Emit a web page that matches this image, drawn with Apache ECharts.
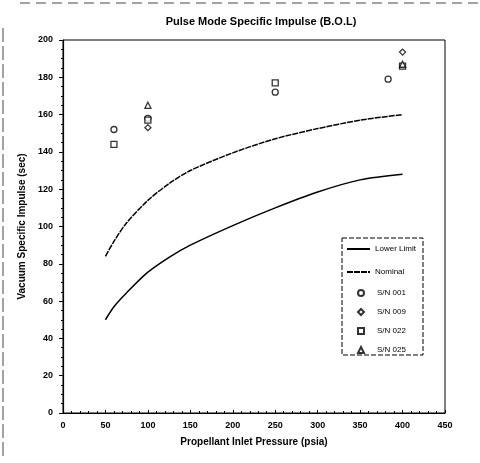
<!DOCTYPE html>
<html>
<head>
<meta charset="utf-8">
<script src="https://cdn.jsdelivr.net/npm/echarts@6/dist/echarts.min.js"></script>
<style>
  html, body { margin: 0; padding: 0; background: #fff; }
  #chart { width: 480px; height: 463px; }
</style>
</head>
<body>
<div id="chart"></div>
<script>
// curves: [pressure psia, Isp sec]
const nominal = [[50, 84], [60, 92], [75, 102], [100, 114], [125, 123], [150, 130], [200, 139.5], [250, 147], [300, 152.5], [350, 157], [400, 160]];
const lowerLimit = [[50, 50], [60, 57], [75, 64.5], [100, 75.5], [125, 83.5], [150, 90], [200, 100.5], [250, 110], [300, 118.5], [350, 125], [400, 128]];

// test points
const sn001 = [[60, 152], [100, 158], [250, 172], [383, 179]];
const sn009 = [[100, 153], [400, 193.5]];
const sn022 = [[60, 144], [100, 157], [250, 177], [400, 186]];
const sn025 = [[100, 165], [400, 187]];

const chart = echarts.init(document.getElementById("chart"));

const font = "Arial, Liberation Sans";
const tickFont = { fontFamily: font, fontWeight: "bold", fontSize: 9, color: "#000" };
const legendText = { fontFamily: font, fontSize: 8, color: "#000" };

function pointSeries(name, data, symbol, size) {
  return {
    name: name,
    type: "scatter",
    data: data,
    symbol: symbol,
    symbolSize: size,
    itemStyle: { color: "#fff", borderColor: "#000", borderWidth: 1.3 }
  };
}

chart.setOption({
  animation: false,
  backgroundColor: "#fff",
  title: {
    text: "Pulse Mode Specific Impulse (B.O.L)",
    left: 256,
    top: 11,
    textAlign: "center",
    textStyle: { fontFamily: font, fontWeight: "bold", fontSize: 11, color: "#000" }
  },
  grid: { left: 63, right: 35, top: 40, bottom: 50, show: true, borderColor: "#000", borderWidth: 1 },
  legend: [
    {
      orient: "vertical",
      left: 346,
      top: 245,
      padding: 0,
      itemWidth: 23,
      itemHeight: 8,
      itemGap: 15,
      itemStyle: { opacity: 0 },
      textStyle: legendText,
      data: ["Lower Limit", "Nominal"]
    },
    {
      orient: "vertical",
      left: 357,
      top: 289,
      padding: 0,
      itemWidth: 6,
      itemHeight: 6,
      itemGap: 11,
      textStyle: Object.assign({ padding: [0, 0, 0, 8] }, legendText),
      data: ["S/N 001", "S/N 009", "S/N 022", "S/N 025"]
    }
  ],
  xAxis: {
    type: "value",
    min: 0,
    max: 450,
    interval: 50,
    name: "Propellant Inlet Pressure (psia)",
    nameLocation: "middle",
    nameGap: 24,
    nameTextStyle: { fontFamily: font, fontWeight: "bold", fontSize: 10, color: "#000" },
    axisLine: { lineStyle: { color: "#000", width: 1.2 } },
    axisTick: { show: true, inside: true, length: 3, lineStyle: { color: "#000" } },
    minorTick: { show: true, splitNumber: 5, length: 2, lineStyle: { color: "#000" } },
    axisLabel: Object.assign({ margin: 8 }, tickFont),
    splitLine: { show: false }
  },
  yAxis: {
    type: "value",
    min: 0,
    max: 200,
    interval: 20,
    name: "Vacuum Specific Impulse (sec)",
    nameLocation: "middle",
    nameGap: 34,
    nameTextStyle: { fontFamily: font, fontWeight: "bold", fontSize: 10, color: "#000" },
    axisLine: { show: true, lineStyle: { color: "#000", width: 1.2 } },
    axisTick: { show: true, length: 4, lineStyle: { color: "#000" } },
    minorTick: { show: true, splitNumber: 4, length: 2, lineStyle: { color: "#000" } },
    axisLabel: Object.assign({ margin: 10 }, tickFont),
    splitLine: { show: false }
  },
  series: [
    {
      name: "Lower Limit",
      type: "line",
      data: lowerLimit,
      smooth: 0.3,
      symbol: "none",
      lineStyle: { color: "#000", width: 1.5 },
      itemStyle: { color: "#000" }
    },
    {
      name: "Nominal",
      type: "line",
      data: nominal,
      smooth: 0.3,
      symbol: "none",
      lineStyle: { color: "#000", width: 1.5, type: [6, 1] },
      itemStyle: { color: "#000" }
    },
    pointSeries("S/N 001", sn001, "circle", 6),
    pointSeries("S/N 009", sn009, "diamond", 6),
    pointSeries("S/N 022", sn022, "rect", 6),
    pointSeries("S/N 025", sn025, "triangle", 6)
  ],
  graphic: [
    // legend frame
    { type: "rect", z: 0, shape: { x: 342, y: 238, width: 81, height: 117 }, style: { fill: "#fff", stroke: "#000", lineWidth: 1, lineDash: [5, 2] } },
    // scan frame edges
    { type: "line", shape: { x1: 3, y1: 28, x2: 3, y2: 460 }, style: { stroke: "#444", lineWidth: 1, lineDash: [14, 4] } },
    { type: "line", shape: { x1: 20, y1: 3, x2: 478, y2: 3 }, style: { stroke: "#444", lineWidth: 1, lineDash: [10, 6] } }
  ]
});
</script>
</body>
</html>
